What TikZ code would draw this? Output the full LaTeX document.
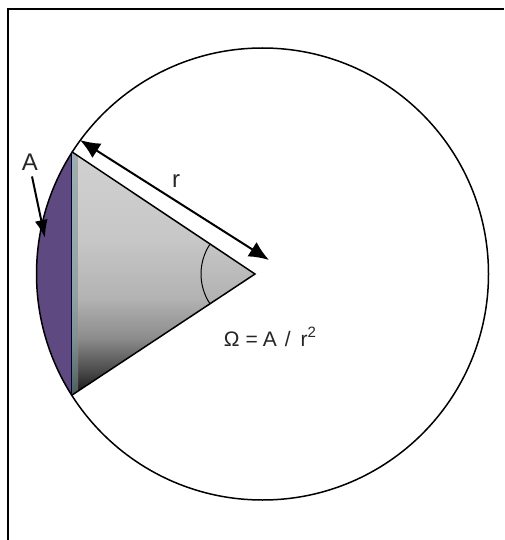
\documentclass[tikz,border=0pt]{standalone}
\usepackage{fontspec}
\setmainfont{Liberation Sans}
\usetikzlibrary{arrows.meta}
\definecolor{capviolet}{HTML}{5E4A80}
\definecolor{txtgray}{HTML}{262626}
\pgfdeclareverticalshading{conefill}{100bp}{color(0bp)=(black!95); color(25bp)=(black!95); color(30bp)=(black!72); color(37bp)=(black!45); color(45bp)=(black!30); color(57bp)=(black!22); color(75bp)=(black!18); color(100bp)=(black!18)}
\begin{document}
\begin{tikzpicture}[x=1pt,y=-1pt,
  frameline/.style={line width=2.2pt,black},
  edge/.style={line width=1.5pt,black},
  bigarrow/.style={line width=2pt,{Latex[length=20pt,width=17pt]}-{Latex[length=20pt,width=17pt]}},
  lbl/.style={font=\fontsize{24}{26}\selectfont,inner sep=0pt}]
\useasboundingbox (0,0) rectangle (504,540);
\fill[white] (0,0) rectangle (504,540);
% frame (only top and left edges visible)
\draw[frameline] (7,9) -- (504,9);
\draw[frameline] (8,9) -- (8,540);
% key points
\coordinate (C) at (262.5,274);
\coordinate (T) at (71.7,151.7);
\coordinate (B) at (71.7,395.3);
\coordinate (O) at (255,274);
% purple cap
\begin{scope}
  \clip (C) circle[radius=226pt];
  \fill[capviolet] (30,140) rectangle (71.7,410);
\end{scope}
% shaded cone
\begin{scope}
  \clip (T) -- (O) -- (B) -- cycle;
  \shade[shading=conefill] (70,150) rectangle (260,397);
  \fill[left color=cyan!30!white, right color=gray!20, opacity=0.35] (71.7,150) rectangle (78,397);
\end{scope}
% circle
\draw[line width=1.5pt] (C) circle[radius=226pt];
% cone edges
\draw[edge] (T) -- (O) -- (B);
\draw[line width=1.4pt,black!80!blue] (T) -- (B);
% angle arc
\draw[line width=1pt] (O) ++(147:54pt) arc[start angle=147,end angle=213,radius=54pt];
% r arrow
\coordinate (r1) at (80,140);
\coordinate (r2) at (269,260);
\draw[bigarrow] (r1) -- (r2);
\node[lbl,text=txtgray] (rlab) at (176,181) {r};
% A label and arrow
\node[lbl,text=txtgray] (alab) at (30,162) {A};
\coordinate (atip) at (45,238);
\draw[line width=2pt,-{Latex[length=18pt,width=13pt]}] (alab.south) ++(2,6) -- (atip);
% formula
\node[font=\fontsize{21}{24}\selectfont,text=txtgray,inner sep=0pt] (omega) at (270,337)
  {Ω\hspace{6pt}=\hspace{5pt}A\hspace{8pt}/\hspace{10pt}r\raisebox{0.42em}{\fontsize{15}{15}\selectfont 2}};
\end{tikzpicture}
\end{document}
